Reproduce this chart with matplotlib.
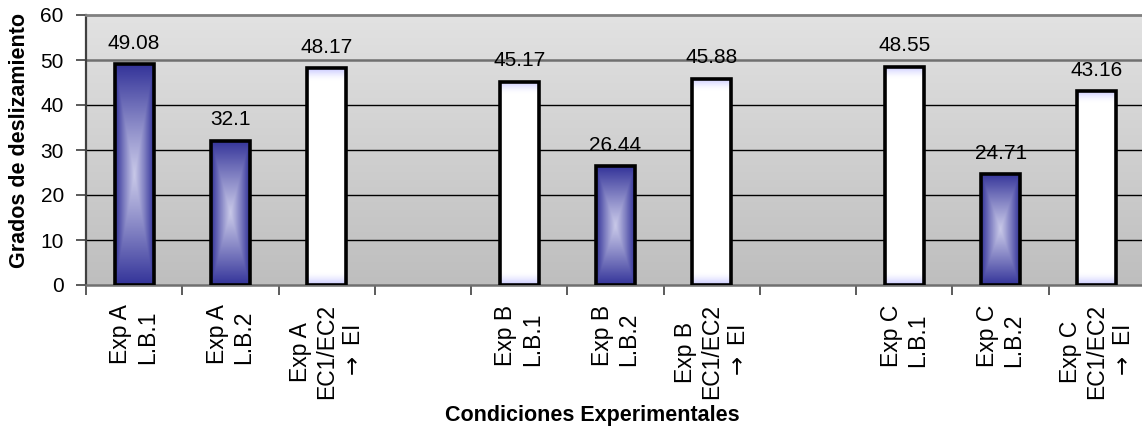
import numpy as np
import matplotlib
matplotlib.use("Agg")
import matplotlib.pyplot as plt

plt.rcParams['font.family'] = ['Liberation Sans', 'DejaVu Sans']
plt.rcParams['mathtext.fontset'] = 'dejavusans'

# ---- data ----
categories = ["Exp A\nL.B.1", "Exp A\nL.B.2", "Exp A\nEC1/EC2\n$\\rightarrow$ EI", "",
              "Exp B\nL.B.1", "Exp B\nL.B.2", "Exp B\nEC1/EC2\n$\\rightarrow$ EI", "",
              "Exp C\nL.B.1", "Exp C\nL.B.2", "Exp C\nEC1/EC2\n$\\rightarrow$ EI"]
values = [49.08, 32.1, 48.17, np.nan,
          45.17, 26.44, 45.88, np.nan,
          48.55, 24.71, 43.16]
value_labels = ["49.08", "32.1", "48.17", "",
                "45.17", "26.44", "45.88", "",
                "48.55", "24.71", "43.16"]
bar_kind = ["dark", "dark", "white", None,
            "white", "dark", "white", None,
            "white", "dark", "white"]
yticks = [0, 10, 20, 30, 40, 50, 60]
ylabel = "Grados de deslizamiento"
xlabel = "Condiciones Experimentales"

W, H, DPI = 1142, 430, 100
fig = plt.figure(figsize=(W / DPI, H / DPI), dpi=DPI)
fig.patch.set_facecolor("white")

left_px, right_px, top_px, bottom_px = 86, 1145, 15, 285
ax = fig.add_axes([left_px / W, (H - bottom_px) / H,
                   (right_px - left_px) / W, (bottom_px - top_px) / H])

x = np.arange(len(categories))
xlim = (-0.5, len(categories) - 0.5)
ylim = (0, 60)

# background gradient
grad = np.linspace(0, 1, 256)[:, None]
top_c = np.array([226, 226, 226]) / 255
bot_c = np.array([190, 190, 190]) / 255
bg = top_c[None, None, :] * (1 - grad[..., None]) + bot_c[None, None, :] * grad[..., None]
bg = np.repeat(bg, 2, axis=1)
ax.imshow(bg, extent=(0, 1, 0, 1), transform=ax.transAxes, aspect='auto',
          zorder=0, interpolation='bilinear')

# bars (only the slots that hold a value)
vals = np.array(values, dtype=float)
keep = ~np.isnan(vals)
bx = x[keep]
bv = vals[keep]
bk = [k for k, m in zip(bar_kind, keep) if m]
bl = [l for l, m in zip(value_labels, keep) if m]

bw = 0.405
bars = ax.bar(bx, bv, width=bw, color='none',
              edgecolor='black', linewidth=2.6, zorder=4)

dark = np.array([0x33, 0x33, 0x99]) / 255
light = np.array([200, 200, 232]) / 255
lav = np.array([200, 200, 255]) / 255
white = np.array([1.0, 1.0, 1.0])
px_per_unit = (bottom_px - top_px) / (ylim[1] - ylim[0])

for rect, kind in zip(bars.patches, bk):
    x0, y0 = rect.get_x(), rect.get_y()
    w, h = rect.get_width(), rect.get_height()
    ny, nx = 300, 60
    u = np.linspace(-1, 1, nx)[None, :]
    vv = np.linspace(-1, 1, ny)[:, None]
    if kind == "dark":
        d = np.maximum(np.abs(u) * np.ones_like(vv), np.abs(vv) * np.ones_like(u))
        t = d ** 1.1
        img = light[None, None, :] * (1 - t[..., None]) + dark[None, None, :] * t[..., None]
    else:
        hpx = h * px_per_unit
        dist = (1 - np.abs(vv)) * hpx / 2  # px from nearest top/bottom edge
        t = np.clip(1 - dist / 12.0, 0, 1) * np.ones_like(u)
        t = t ** 1.5
        img = white[None, None, :] * (1 - t[..., None]) + lav[None, None, :] * t[..., None]
    ax.imshow(img, extent=(x0, x0 + w, y0, y0 + h), aspect='auto',
              zorder=3, interpolation='bilinear')

# value labels
for rect, lab in zip(bars.patches, bl):
    ax.annotate(lab, (rect.get_x() + rect.get_width() / 2, rect.get_height()),
                xytext=(0, 11), textcoords='offset points', ha='center',
                va='baseline', fontsize=15, color='black', zorder=6,
                annotation_clip=False)

ax.set_xlim(*xlim)
ax.set_ylim(*ylim)

# y axis
ax.set_yticks(yticks)
ax.set_yticklabels([str(t) for t in yticks], fontsize=15)
ax.tick_params(axis='y', direction='out', length=7, width=1.2, pad=9, color='#404040')

# grid lines
for yv in yticks[1:-1]:
    col = '#707070' if yv == 50 else 'black'
    lw = 1.8 if yv == 50 else 1.0
    ax.axhline(yv, color=col, linewidth=lw, zorder=1)

# x axis: major ticks at slot boundaries, labels at slot centres via minor ticks
ax.set_xticks(np.arange(xlim[0], xlim[1] + 0.01, 1.0))
ax.set_xticklabels([])
ax.tick_params(axis='x', which='major', direction='out', length=7, width=1.2, color='#404040')
ax.set_xticks(x, minor=True)
ax.set_xticklabels(categories, minor=True, rotation=90, fontsize=16.5, va='top', ha='center')
ax.tick_params(axis='x', which='minor', length=0, pad=14)
for lab, cat in zip(ax.get_xticklabels(minor=True), categories):
    lab.set_multialignment('center' if cat.count("\n") >= 2 else 'left')

ax.spines['top'].set_color('#808080')
ax.spines['top'].set_linewidth(2.0)
ax.spines['left'].set_color('#404040')
ax.spines['left'].set_linewidth(1.6)
ax.spines['bottom'].set_color('#707070')
ax.spines['bottom'].set_linewidth(1.8)
ax.spines['right'].set_color('#808080')

fig.text(20 / W, 1 - 141 / H, ylabel, rotation=90, ha='center', va='center',
         fontsize=15.5, fontweight='bold')
fig.text(592 / W, 1 - 415 / H, xlabel, ha='center', va='center',
         fontsize=15.5, fontweight='bold')

fig.savefig("out.png", dpi=DPI)
